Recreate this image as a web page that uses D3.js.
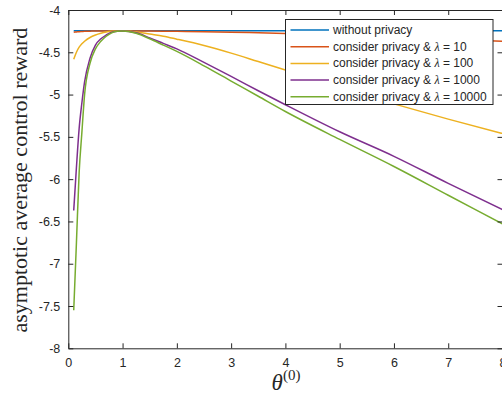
<!DOCTYPE html>
<html>
<head>
<meta charset="utf-8">
<script src="https://cdn.jsdelivr.net/npm/d3@7"></script>
<style>
  html, body { margin: 0; padding: 0; background: #fff; overflow: hidden; }
  svg { display: block; }
</style>
</head>
<body>
<script>
// theta grid (x values) for the curves
var theta = [0.1, 0.15, 0.2, 0.25, 0.3, 0.4, 0.5, 0.6, 0.7, 0.8, 0.9, 1, 1.25, 1.5, 1.75, 2, 2.5, 3, 3.5, 4, 5, 6, 7, 8];

var noPrivacyX = [0.1, 8];
var noPrivacy  = [-4.245, -4.245];

var lam10 = [-4.262, -4.259, -4.256, -4.254, -4.252, -4.25, -4.249, -4.248, -4.248, -4.247, -4.247, -4.247, -4.248, -4.249, -4.25, -4.252, -4.256, -4.262, -4.27, -4.278, -4.298, -4.32, -4.345, -4.37];
var lam100 = [-4.583, -4.5, -4.44, -4.4, -4.37, -4.325, -4.296, -4.275, -4.26, -4.252, -4.248, -4.247, -4.26, -4.285, -4.31, -4.345, -4.42, -4.51, -4.61, -4.71, -4.92, -5.11, -5.29, -5.46];
var lam1000 = [-6.37, -5.86, -5.4, -5.1, -4.85, -4.57, -4.414, -4.34, -4.295, -4.262, -4.25, -4.247, -4.27, -4.33, -4.395, -4.46, -4.62, -4.785, -4.955, -5.12, -5.44, -5.73, -6.05, -6.36];
var lam10000 = [-7.55, -6.75, -5.92, -5.45, -5.0, -4.63, -4.46, -4.37, -4.31, -4.27, -4.252, -4.248, -4.275, -4.34, -4.415, -4.49, -4.66, -4.84, -5.02, -5.2, -5.53, -5.85, -6.19, -6.53];

var legendNames = ["without privacy", "consider privacy & λ = 10", "consider privacy & λ = 100", "consider privacy & λ = 1000", "consider privacy & λ = 10000"];
var colors = ["#0072BD", "#D95319", "#EDB120", "#7E2F8E", "#77AC30"];

var xTicks = [0, 1, 2, 3, 4, 5, 6, 7, 8];
var yTicks = [-8, -7.5, -7, -6.5, -6, -5.5, -5, -4.5, -4];

var W = 502, H = 394;
var pLeft = 68.3, pRight = 502.5, pTop = 10, pBottom = 348.3;
var axisCol = "#262626";

var svg = d3.select("body").append("svg")
    .attr("width", W)
    .attr("height", H);

var x = d3.scaleLinear().domain([0, 8]).range([pLeft, pRight]);
var y = d3.scaleLinear().domain([-8, -4]).range([pBottom, pTop]);

// series
var series = [
    {xs: noPrivacyX, ys: noPrivacy},
    {xs: theta, ys: lam10},
    {xs: theta, ys: lam100},
    {xs: theta, ys: lam1000},
    {xs: theta, ys: lam10000}
];

var line = d3.line()
    .x(function(d) { return x(d[0]); })
    .y(function(d) { return y(d[1]); })
    .curve(d3.curveMonotoneX);

series.forEach(function(s, i) {
    svg.append("path")
        .datum(s.xs.map(function(v, j) { return [v, s.ys[j]]; }))
        .attr("d", line)
        .attr("fill", "none")
        .attr("stroke", colors[i])
        .attr("stroke-width", 1.5);
});

// axes (ticks pointing inward, box all round)
var fontSans = "'Liberation Sans', Arial, Helvetica, sans-serif";

var gx = svg.append("g").attr("transform", "translate(0," + pBottom + ")")
    .call(d3.axisBottom(x).tickValues(xTicks).tickSizeInner(-5).tickSizeOuter(0).tickPadding(10).tickFormat(d3.format("d")));
var gxTop = svg.append("g").attr("transform", "translate(0," + pTop + ")")
    .call(d3.axisTop(x).tickValues(xTicks).tickSizeInner(-5).tickSizeOuter(0).tickFormat(""));
var gy = svg.append("g").attr("transform", "translate(" + pLeft + ",0)")
    .call(d3.axisLeft(y).tickValues(yTicks).tickSizeInner(-5).tickSizeOuter(0).tickPadding(8).tickFormat(function(d) { return String(d); }));
var gyRight = svg.append("g").attr("transform", "translate(" + pRight + ",0)")
    .call(d3.axisRight(y).tickValues(yTicks).tickSizeInner(-5).tickSizeOuter(0).tickFormat(""));

[gx, gxTop, gy, gyRight].forEach(function(g) {
    g.selectAll("path, line").attr("stroke", axisCol).attr("stroke-width", 1);
    g.selectAll("text").attr("fill", axisCol).style("font-family", fontSans).style("font-size", "12.5px");
});

// axis labels
svg.append("text")
    .attr("transform", "translate(27," + ((pTop + pBottom) / 2 + 1) + ") rotate(-90)")
    .attr("text-anchor", "middle")
    .style("font-family", "'Liberation Serif', 'Times New Roman', serif")
    .style("font-size", "22px")
    .attr("fill", axisCol)
    .text("asymptotic average control reward");

var xl = svg.append("text")
    .attr("x", 286)
    .attr("y", 390)
    .attr("text-anchor", "middle")
    .style("font-family", "'Liberation Serif', 'Times New Roman', serif")
    .attr("fill", axisCol);
xl.append("tspan").style("font-style", "italic").style("font-size", "23px").text("θ");
xl.append("tspan").attr("dy", -10).style("font-size", "15px").text("(0)");

// legend
var lg = svg.append("g");
lg.append("rect")
    .attr("x", 285.5).attr("y", 19.5)
    .attr("width", 207.5).attr("height", 85)
    .attr("fill", "#fff")
    .attr("stroke", axisCol)
    .attr("stroke-width", 1);

legendNames.forEach(function(name, i) {
    var ry = 30 + i * 16.7;
    lg.append("line")
        .attr("x1", 290.5).attr("x2", 329)
        .attr("y1", ry).attr("y2", ry)
        .attr("stroke", colors[i])
        .attr("stroke-width", 1.5);
    var t = lg.append("text")
        .attr("x", 333)
        .attr("y", ry + 4)
        .attr("fill", axisCol)
        .style("font-family", fontSans)
        .style("font-size", "12px");
    var parts = name.split("λ");
    t.append("tspan").text(parts[0]);
    if (parts.length > 1) {
        t.append("tspan").style("font-family", "'Liberation Serif', serif").style("font-style", "italic").text("λ");
        t.append("tspan").text(parts[1]);
    }
});
</script>
</body>
</html>
